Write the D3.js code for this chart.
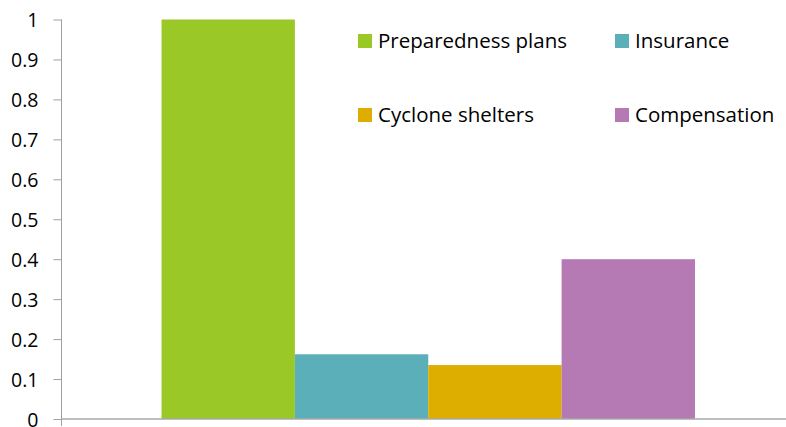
<!DOCTYPE html>
<html>
<head>
<meta charset="utf-8">
<script src="https://cdn.jsdelivr.net/npm/d3@7"></script>
<style>
  body { margin: 0; background: #fff; }
  svg text { font-family: "Open Sans", "Noto Sans", sans-serif; fill: #000; }
</style>
</head>
<body>
<div id="chart"></div>
<script>
/* Data */
var categories = ['Cyclone preparedness'];
var series     = ['Preparedness plans', 'Insurance', 'Cyclone shelters', 'Compensation'];
var values     = [1, 0.162, 0.135, 0.4];
var colors     = ['#9AC826', '#5AAFB9', '#DDAD00', '#B57AB3'];
var yTicks     = [0, 0.1, 0.2, 0.3, 0.4, 0.5, 0.6, 0.7, 0.8, 0.9, 1];

/* Layout */
var W = 786, H = 427;
var mLeft = 61.5, mRight = 795, mTop = 19.5, mBottom = 419;

var svg = d3.select('#chart')
    .append('svg')
      .attr('width', W)
      .attr('height', H)

var y = d3.scaleLinear().domain([0, 1]).range([mBottom, mTop]);

var x0 = d3.scaleBand().domain(categories).range([mLeft, mRight]);
var x1 = d3.scaleBand().domain(series).range([0, x0.bandwidth()])
    .paddingInner(0).paddingOuter(0.75);

// Bars
svg.selectAll('rect.bar').data(series)
  .enter().append('rect')
    .attr('class', 'bar')
    .attr('x', function(d){ return x0(categories[0]) + x1(d); })
    .attr('width', x1.bandwidth())
    .attr('y', function(d, i){ return y(values[i]); })
    .attr('height', function(d, i){ return mBottom - y(values[i]); })
    .attr('fill', function(d, i){ return colors[i]; })

// Y axis
var yAxis = d3.axisLeft(y).tickValues(yTicks).tickSize(8).tickPadding(15)
    .tickFormat(function(d){ return d3.format('')(+d.toFixed(1)); });

var ga = svg.append('g').attr('transform', 'translate(' + mLeft + ',0)').call(yAxis);
ga.select('.domain').remove();
ga.selectAll('.tick line').attr('stroke', '#A0A0A0');
ga.selectAll('.tick text').attr('font-size', 19.5).attr('fill', '#000')
  .attr('font-family', '"Open Sans", sans-serif').attr('dy', '0.36em');
ga.append('line').attr('x1', 0).attr('x2', 0).attr('y1', mTop).attr('y2', mBottom + 7)
  .attr('stroke', '#A0A0A0');

// X axis baseline
svg.append('line')
    .attr('x1', mLeft).attr('x2', W)
    .attr('y1', mBottom).attr('y2', mBottom)
    .attr('stroke', '#A8A8A8').attr('stroke-width', 1.5)

// Legend
var legX = [358, 615], legY = [34, 108];
var leg = svg.selectAll('g.leg').data(series)
  .enter().append('g')
    .attr('class', 'leg')
    .attr('transform', function(d, i){
      return 'translate(' + legX[i % 2] + ',' + legY[Math.floor(i / 2)] + ')';
    })

leg.append('rect')
    .attr('width', 14).attr('height', 14)
    .attr('fill', function(d, i){ return colors[i]; })

leg.append('text')
    .attr('x', 20).attr('y', 7).attr('dy', '0.36em')
    .attr('font-size', 20.5)
    .text(function(d){ return d; })
</script>
</body>
</html>
